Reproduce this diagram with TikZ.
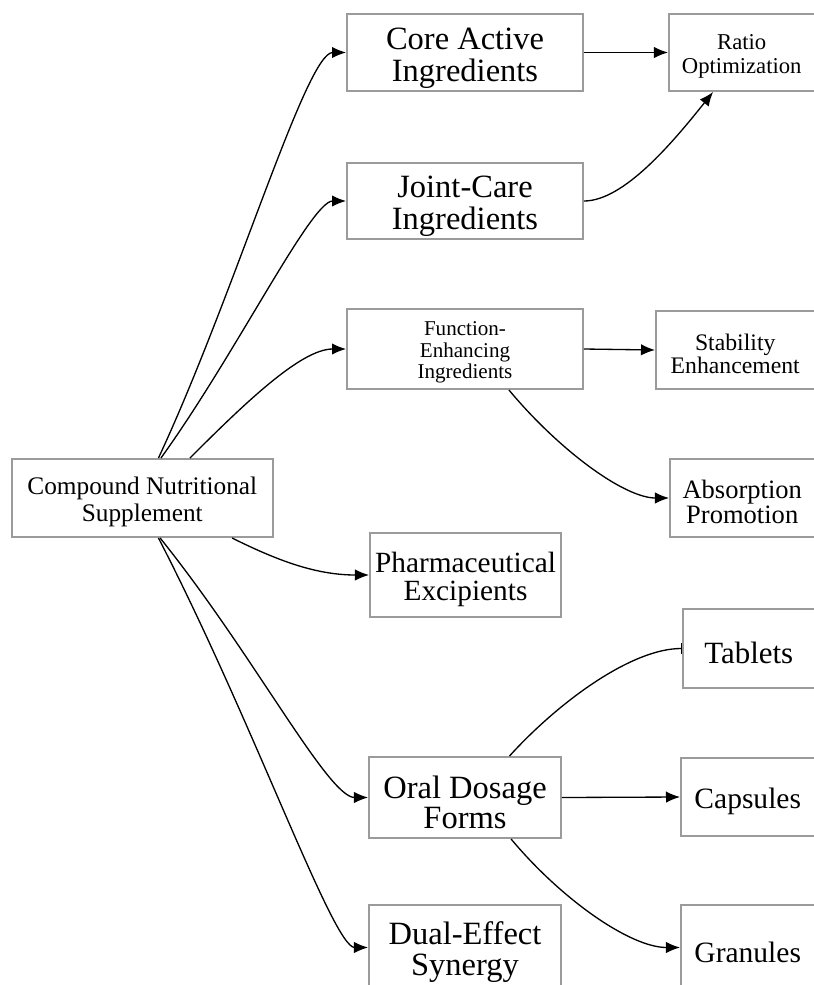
\documentclass[tikz,border=0pt]{standalone}
\usepackage{fontspec}
\setmainfont{Liberation Serif}
\usetikzlibrary{arrows.meta}
\definecolor{boxgray}{RGB}{155,155,155}
\tikzset{
    box/.style 2 args={draw=boxgray, line width=1.1pt, inner sep=0pt, align=flush center, text width=#1, minimum width=#1, minimum height=#2,
        execute at begin node={\rule{0pt}{1em}}},
    fnt/.style 2 args={font=\fontsize{#1pt}{#2pt}\selectfont},
    link/.style={-{Latex[length=8pt,width=6.5pt]}, line width=0.75pt},
}

\begin{document}
\begin{tikzpicture}[x=0.02cm, y=-0.02cm]
        \useasboundingbox (0,0) rectangle (814,985);
        \clip (0,0) rectangle (814,985);
        \node[box={5.23cm}{1.56cm}, fnt={14.4}{15}] (supp) at (142.3,498) {Compound Nutritional\\Supplement};
        \node[box={4.72cm}{1.54cm}, fnt={18.5}{18.3}] (core) at (465,52.5) {Core Active\\Ingredients};
        \node[box={4.72cm}{1.52cm}, fnt={18.5}{18.3}] (joint) at (465,201) {Joint-Care\\Ingredients};
        \node[box={4.72cm}{1.6cm}, fnt={12}{12.2}] (func) at (465,349) {Function-\\Enhancing\\Ingredients};
        \node[box={3.82cm}{1.68cm}, fnt={16.7}{15.6}] (pharm) at (465.5,575) {Pharmaceutical\\Excipients};
        \node[box={3.84cm}{1.62cm}, fnt={18.5}{17.5}] (oral) at (465,797.5) {Oral Dosage\\Forms};
        \node[box={3.84cm}{1.7cm}, fnt={18.5}{17.5}] (dual) at (465,947.5) {Dual-Effect\\Synergy};
        \node[box={2.91cm}{1.54cm}, fnt={12.9}{13.3}] (ratio) at (741.75,52.5) {Ratio\\Optimization};
        \node[box={3.17cm}{1.56cm}, fnt={13.5}{13.3}] (stab) at (735.25,350) {Stability\\Enhancement};
        \node[box={2.89cm}{1.56cm}, fnt={15.1}{14.5}] (absorb) at (742.25,498) {Absorption\\Promotion};
        \node[box={2.63cm}{1.58cm}, fnt={17.6}{17}] (tab) at (748.75,648.5) {Tablets};
        \node[box={2.67cm}{1.56cm}, fnt={16.8}{16}] (caps) at (747.75,797) {Capsules};
        \node[box={2.67cm}{1.7cm}, fnt={16.8}{16}] (gran) at (747.75,947.5) {Granules};
        \draw[link] (supp.68) .. controls +(76,-163) and +(-40,0) .. (core.west);
        \draw[link] (supp.65) .. controls +(75,-104) and +(-35,0) .. (joint.west);
        \draw[link] (supp.40) .. controls +(55,-55) and +(-45,0) .. (func.west);
        \draw[link] (supp.-24) .. controls +(50,25) and +(-50,0) .. (pharm.west);
        \draw[link] (supp.-66) .. controls +(94,117) and +(-40,0) .. (oral.west);
        \draw[link] (supp.-68) .. controls +(95,184) and +(-35,0) .. (dual.west);
        \draw[link] (core.east) -- (ratio.west);
        \draw[link] (joint.east) .. controls +(40,0) and +(-40,50) .. (ratio.234);
        \draw[link] (func.east) -- (stab.west);
        \draw[link] (func.-43) .. controls +(50,60) and +(-45,0) .. (absorb.west);
        \draw[-|, line width=0.75pt] (oral.43) .. controls +(50,-55) and +(-50,0) .. (tab.west);
        \draw[link] (oral.east) -- (caps.west);
        \draw[link] (oral.-42) .. controls +(50,60) and +(-50,0) .. (gran.west);
    \end{tikzpicture}
\end{document}
